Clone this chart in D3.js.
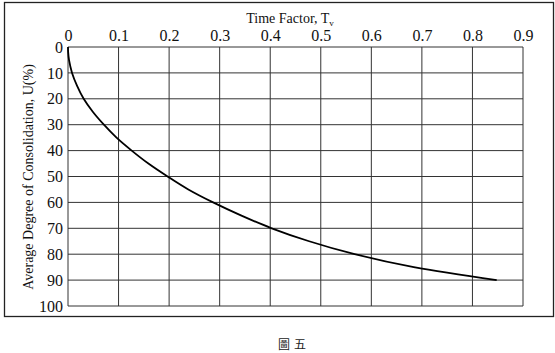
<!DOCTYPE html>
<html>
<head>
<meta charset="utf-8">
<script src="https://cdn.jsdelivr.net/npm/d3@7"></script>
<style>
  body { margin: 0; background: #fff; }
</style>
</head>
<body>
<svg class="chart"></svg>
<script>
// values: time factor Tv vs average degree of consolidation U(%)
var degree = [0, 2, 5, 10, 15, 20, 25, 30, 35, 40, 45, 50, 55, 60, 65, 70, 75, 80, 85, 90];
var timeFactor = [0, 0.0003, 0.002, 0.008, 0.018, 0.031, 0.049, 0.071, 0.096, 0.126,
                  0.159, 0.197, 0.238, 0.287, 0.342, 0.403, 0.477, 0.567, 0.684, 0.848];
var xTicks = [0, 0.1, 0.2, 0.3, 0.4, 0.5, 0.6, 0.7, 0.8, 0.9];
var yTicks = [0, 10, 20, 30, 40, 50, 60, 70, 80, 90, 100];

var width = 555, height = 353;
var plot = {left: 68, right: 523, top: 47, bottom: 306};
var serif = "'Liberation Serif', 'Times New Roman', serif";

var svg = d3.select(".chart")
    .attr("width", width)
    .attr("height", height);

// outer frame
svg.append("rect")
    .attr("x", 4.5).attr("y", 2.5)
    .attr("width", 549).attr("height", 314)
    .attr("fill", "none").attr("stroke", "#222").attr("stroke-width", 1.3);

var x = d3.scaleLinear().domain([0, 0.9]).range([plot.left, plot.right]);
var y = d3.scaleLinear().domain([0, 100]).range([plot.top, plot.bottom]);

// grid
svg.append("g").selectAll("line").data(xTicks).enter()
    .append("line")
    .attr("x1", d => x(d)).attr("x2", d => x(d))
    .attr("y1", plot.top).attr("y2", plot.bottom)
    .attr("stroke", "#333").attr("stroke-width", 1);

svg.append("g").selectAll("line").data(yTicks).enter()
    .append("line")
    .attr("x1", plot.left).attr("x2", plot.right)
    .attr("y1", d => y(d)).attr("y2", d => y(d))
    .attr("stroke", "#333").attr("stroke-width", 1);

// axes (labels only)
var xAxis = svg.append("g")
    .attr("transform", "translate(0," + plot.top + ")")
    .call(d3.axisTop(x).tickValues(xTicks).tickSize(0).tickPadding(6).tickFormat(d3.format("")));
var yAxis = svg.append("g")
    .attr("transform", "translate(" + plot.left + ",0)")
    .call(d3.axisLeft(y).tickValues(yTicks).tickSize(0).tickPadding(5));
[xAxis, yAxis].forEach(function(a) {
    a.select(".domain").remove();
    a.attr("font-family", null).attr("font-size", null);
    a.selectAll("text")
        .style("font-family", serif)
        .style("font-size", "16px")
        .attr("fill", "#111");
});

// curve
var line = d3.line()
    .x((d, i) => x(timeFactor[i]))
    .y(d => y(d))
    .curve(d3.curveCatmullRom);
svg.append("path")
    .datum(degree)
    .attr("d", line)
    .attr("fill", "none")
    .attr("stroke", "#000")
    .attr("stroke-width", 1.8);

// titles
var title = svg.append("text")
    .attr("x", 290).attr("y", 23)
    .attr("text-anchor", "middle")
    .style("font-family", serif)
    .style("font-size", "14px")
    .attr("fill", "#111");
title.append("tspan").text("Time Factor, T");
title.append("tspan").attr("dy", 3).style("font-size", "9px").text("v");

svg.append("text")
    .attr("transform", "translate(33,177) rotate(-90)")
    .attr("text-anchor", "middle")
    .style("font-family", serif)
    .style("font-size", "14px")
    .attr("fill", "#111")
    .text("Average Degree of Consolidation, U(%)");

svg.append("text")
    .attr("x", 294).attr("y", 349)
    .attr("text-anchor", "middle")
    .style("font-size", "12px")
    .style("letter-spacing", "4px")
    .style("font-family", "'Noto Sans CJK TC', sans-serif")
    .attr("fill", "#222")
    .text("圖五");
</script>
</body>
</html>
